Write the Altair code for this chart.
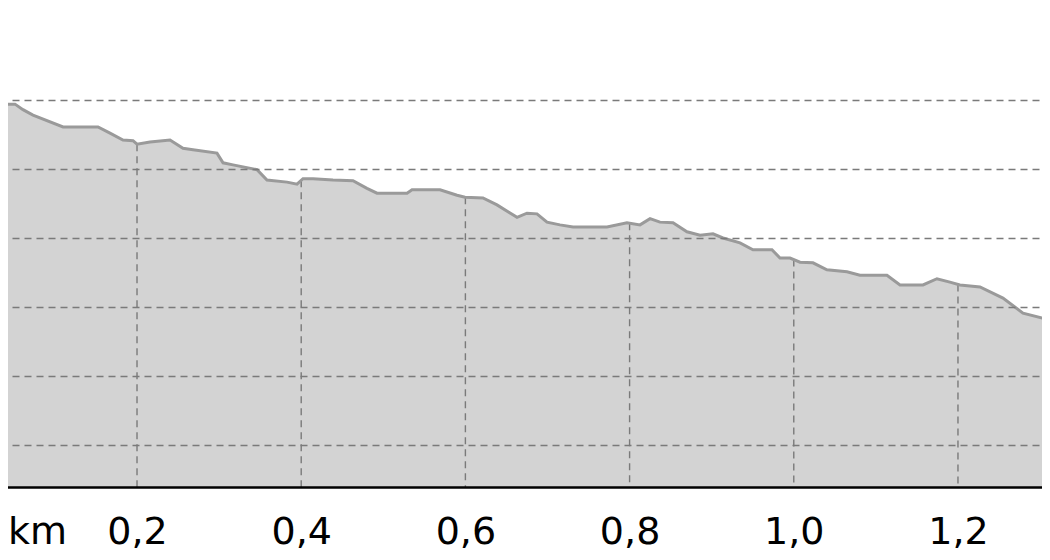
import altair as alt
import numpy as np
import pandas as pd

# elevation profile
km = [0.021, 0.0514, 0.0611, 0.0733, 0.1099, 0.1525, 0.1671, 0.1829, 0.1951, 0.2000,
      0.2158, 0.2402, 0.2560, 0.2682, 0.2974, 0.3048, 0.3169, 0.3462, 0.3583, 0.3827,
      0.3949, 0.4022, 0.4144, 0.4387, 0.4631, 0.4801, 0.4923, 0.5289, 0.5350, 0.5691,
      0.5898, 0.5995, 0.6214, 0.6385, 0.6629, 0.6750, 0.6872, 0.6994, 0.7152, 0.7311,
      0.7725, 0.7968, 0.8127, 0.8249, 0.8370, 0.8529, 0.8699, 0.8858, 0.9016, 0.9138,
      0.9345, 0.9503, 0.9734, 0.9832, 0.9954, 1.0076, 1.0234, 1.0404, 1.0648, 1.0806,
      1.1135, 1.1294, 1.1574, 1.1744, 1.1902, 1.2024, 1.2268, 1.2548, 1.2792, 1.3121,
      1.3304]
elev = [449.4, 449.4, 448.6, 447.8, 446.1, 446.1, 445.2, 444.2, 444.1, 443.6,
        443.9, 444.2, 443.0, 442.8, 442.3, 440.9, 440.6, 439.9, 438.4, 438.1,
        437.8, 438.6, 438.6, 438.4, 438.3, 437.2, 436.5, 436.5, 437.0, 437.0,
        436.2, 435.9, 435.8, 434.8, 433.0, 433.6, 433.5, 432.3, 431.9, 431.6,
        431.6, 432.2, 431.9, 432.8, 432.3, 432.2, 430.9, 430.4, 430.6, 430.0,
        429.3, 428.3, 428.3, 427.1, 427.1, 426.5, 426.4, 425.4, 425.1, 424.6,
        424.6, 423.2, 423.2, 424.1, 423.6, 423.2, 422.9, 421.3, 419.1, 418.1,
        417.5]

x_ticks = [0.2, 0.4, 0.6, 0.8, 1.0, 1.2]
y_grid = [400, 410, 420, 430, 440, 450]

X_DOMAIN = [0.0331, 1.3121]
Y_DOMAIN = [393.913, 464.493]

profile = pd.DataFrame({"km": km, "elev": elev})
# vertical grid lines only run under the profile
ticks = pd.DataFrame({"km": x_ticks, "top": np.interp(x_ticks, km, elev)})

FONT = "DejaVu Sans"
GRID = "#7a7a7a"

x_scale = alt.Scale(domain=X_DOMAIN, nice=False, zero=False)
y_scale = alt.Scale(domain=Y_DOMAIN, nice=False, zero=False)

x_axis = alt.Axis(
    values=x_ticks,
    labelExpr="replace(format(datum.value, '.1f'), '.', ',')",
    labelFont=FONT, labelFontSize=38, labelColor="#000",
    labelBaseline="alphabetic", labelPadding=56,
    labelOverlap=False, labelFlush=False, labelBound=False,
    ticks=False, tickSize=0, grid=False,
    domainColor="#000", domainWidth=2.5,
    title="km", titleFont=FONT, titleFontSize=38, titleFontWeight="normal",
    titleColor="#000", titleX=37, titleY=56, titleAlign="center",
    titleBaseline="alphabetic", titleAnchor="start",
    zindex=1,
)
y_axis = alt.Axis(
    values=y_grid, labels=False, ticks=False, domain=False, title=None,
    grid=True, gridColor=GRID, gridDash=[7, 5], gridWidth=1.4, zindex=1,
)

area = alt.Chart(profile).mark_area(color="#d3d3d3", clip=True).encode(
    x=alt.X("km:Q", scale=x_scale, axis=x_axis),
    y=alt.Y("elev:Q", scale=y_scale, axis=y_axis),
)

vgrid = alt.Chart(ticks).mark_rule(
    color=GRID, strokeDash=[7, 5], strokeWidth=1.4
).encode(
    x=alt.X("km:Q", scale=x_scale),
    y=alt.Y("top:Q", scale=y_scale),
    y2=alt.Y2(datum=Y_DOMAIN[0]),
)

line = alt.Chart(profile).mark_line(
    color="#9a9a9a", strokeWidth=3, clip=True, interpolate="linear"
).encode(
    x=alt.X("km:Q", scale=x_scale),
    y=alt.Y("elev:Q", scale=y_scale),
)

chart = alt.layer(area, vgrid, line).properties(
    width=1050,
    height=487,
    autosize="none",
    padding={"left": -8, "top": -8, "right": -8, "bottom": 64},
).configure_view(stroke=None)

chart.save("out.html", embed_options={"renderer": "svg", "actions": False})
